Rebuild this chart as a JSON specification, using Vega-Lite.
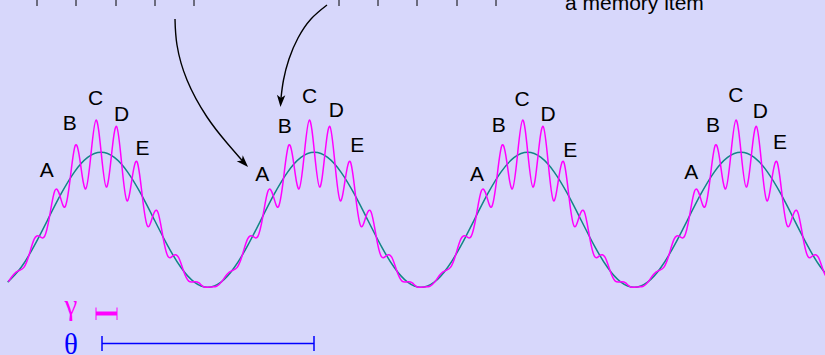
{
  "$schema": "https://vega.github.io/schema/vega-lite/v6.json",
  "width": 825,
  "height": 355,
  "autosize": {"type": "none"},
  "padding": 0,
  "background": "#d7d7fb",
  "config": {"view": {"stroke": null}},
  "encoding": {
    "x": {"field": "x", "type": "quantitative", "scale": {"domain": [0, 825], "nice": false, "zero": false}, "axis": null},
    "y": {"field": "y", "type": "quantitative", "scale": {"domain": [0, 355], "nice": false, "zero": false, "reverse": true}, "axis": null}
  },
  "layer": [
    {
      "data": {"values": [
        {"x": 7.68, "y": 282.16}, {"x": 21.01, "y": 267.53}, {"x": 34.34, "y": 245.63}, {"x": 47.68, "y": 219.8},
        {"x": 61.01, "y": 193.97}, {"x": 74.34, "y": 172.07}, {"x": 87.67, "y": 157.44}, {"x": 101, "y": 152.3},
        {"x": 114.33, "y": 157.44}, {"x": 127.66, "y": 172.07}, {"x": 140.99, "y": 193.97}, {"x": 154.33, "y": 219.8},
        {"x": 167.66, "y": 245.63}, {"x": 180.99, "y": 267.53}, {"x": 194.32, "y": 282.16}, {"x": 207.65, "y": 287.3},
        {"x": 220.98, "y": 282.16}, {"x": 234.31, "y": 267.53}, {"x": 247.64, "y": 245.63}, {"x": 260.98, "y": 219.8},
        {"x": 274.31, "y": 193.97}, {"x": 287.64, "y": 172.07}, {"x": 300.97, "y": 157.44}, {"x": 314.3, "y": 152.3},
        {"x": 327.63, "y": 157.44}, {"x": 340.96, "y": 172.07}, {"x": 354.29, "y": 193.97}, {"x": 367.63, "y": 219.8},
        {"x": 380.96, "y": 245.63}, {"x": 394.29, "y": 267.53}, {"x": 407.62, "y": 282.16}, {"x": 420.95, "y": 287.3},
        {"x": 434.28, "y": 282.16}, {"x": 447.61, "y": 267.53}, {"x": 460.94, "y": 245.63}, {"x": 474.28, "y": 219.8},
        {"x": 487.61, "y": 193.97}, {"x": 500.94, "y": 172.07}, {"x": 514.27, "y": 157.44}, {"x": 527.6, "y": 152.3},
        {"x": 540.93, "y": 157.44}, {"x": 554.26, "y": 172.07}, {"x": 567.59, "y": 193.97}, {"x": 580.93, "y": 219.8},
        {"x": 594.26, "y": 245.63}, {"x": 607.59, "y": 267.53}, {"x": 620.92, "y": 282.16}, {"x": 634.25, "y": 287.3},
        {"x": 647.58, "y": 282.16}, {"x": 660.91, "y": 267.53}, {"x": 674.24, "y": 245.63}, {"x": 687.58, "y": 219.8},
        {"x": 700.91, "y": 193.97}, {"x": 714.24, "y": 172.07}, {"x": 727.57, "y": 157.44}, {"x": 740.9, "y": 152.3},
        {"x": 754.23, "y": 157.44}, {"x": 767.56, "y": 172.07}, {"x": 780.89, "y": 193.97}, {"x": 794.23, "y": 219.8},
        {"x": 807.56, "y": 245.63}, {"x": 820.89, "y": 267.53}, {"x": 834.22, "y": 282.16}
      ]},
      "mark": {"type": "line", "interpolate": "natural", "color": "#138686", "strokeWidth": 1.5, "clip": true}
    },
    {
      "data": {"values": [
        {"x": 8.45, "y": 281.6}, {"x": 13.6, "y": 274.4}, {"x": 18.75, "y": 270.6}, {"x": 23.9, "y": 267.4}, {"x": 29.05, "y": 255.0},
        {"x": 34.2, "y": 239.1}, {"x": 39.35, "y": 236.2}, {"x": 44.5, "y": 236.5}, {"x": 49.65, "y": 215.9}, {"x": 54.8, "y": 190.8},
        {"x": 59.95, "y": 195.9}, {"x": 65.1, "y": 206.8}, {"x": 70.25, "y": 178.2}, {"x": 75.4, "y": 145.2}, {"x": 80.55, "y": 164.2},
        {"x": 85.7, "y": 188.9}, {"x": 90.85, "y": 155.3}, {"x": 96.0, "y": 120.1}, {"x": 101.15, "y": 152.3}, {"x": 106.3, "y": 187.1},
        {"x": 111.45, "y": 155.5}, {"x": 116.6, "y": 126.5}, {"x": 121.75, "y": 164.5}, {"x": 126.9, "y": 200.7}, {"x": 132.05, "y": 178.6},
        {"x": 137.2, "y": 162.1}, {"x": 142.35, "y": 196.5}, {"x": 147.5, "y": 226.2}, {"x": 152.65, "y": 216.5}, {"x": 157.8, "y": 212.0},
        {"x": 162.95, "y": 236.8}, {"x": 168.1, "y": 256.6}, {"x": 173.25, "y": 255.5}, {"x": 178.4, "y": 257.2}, {"x": 183.55, "y": 271.0},
        {"x": 188.7, "y": 281.1}, {"x": 193.85, "y": 281.8}, {"x": 199.0, "y": 282.9}, {"x": 204.15, "y": 287.0},
        {"x": 211.45, "y": 286.9}, {"x": 216.6, "y": 286.2}, {"x": 221.75, "y": 281.6}, {"x": 226.9, "y": 274.4}, {"x": 232.05, "y": 270.6},
        {"x": 237.2, "y": 267.4}, {"x": 242.35, "y": 255.0}, {"x": 247.5, "y": 239.1}, {"x": 252.65, "y": 236.2}, {"x": 257.8, "y": 236.5},
        {"x": 262.95, "y": 215.9}, {"x": 268.1, "y": 190.8}, {"x": 273.25, "y": 195.9}, {"x": 278.4, "y": 206.8}, {"x": 283.55, "y": 178.2},
        {"x": 288.7, "y": 145.2}, {"x": 293.85, "y": 164.2}, {"x": 299.0, "y": 188.9}, {"x": 304.15, "y": 155.3}, {"x": 309.3, "y": 120.1},
        {"x": 314.45, "y": 152.3}, {"x": 319.6, "y": 187.1}, {"x": 324.75, "y": 155.5}, {"x": 329.9, "y": 126.5}, {"x": 335.05, "y": 164.5},
        {"x": 340.2, "y": 200.7}, {"x": 345.35, "y": 178.6}, {"x": 350.5, "y": 162.1}, {"x": 355.65, "y": 196.5}, {"x": 360.8, "y": 226.2},
        {"x": 365.95, "y": 216.5}, {"x": 371.1, "y": 212.0}, {"x": 376.25, "y": 236.8}, {"x": 381.4, "y": 256.6}, {"x": 386.55, "y": 255.5},
        {"x": 391.7, "y": 257.2}, {"x": 396.85, "y": 271.0}, {"x": 402.0, "y": 281.1}, {"x": 407.15, "y": 281.8}, {"x": 412.3, "y": 282.9},
        {"x": 417.45, "y": 287.0},
        {"x": 424.75, "y": 286.9}, {"x": 429.9, "y": 286.2}, {"x": 435.05, "y": 281.6}, {"x": 440.2, "y": 274.4}, {"x": 445.35, "y": 270.6},
        {"x": 450.5, "y": 267.4}, {"x": 455.65, "y": 255.0}, {"x": 460.8, "y": 239.1}, {"x": 465.95, "y": 236.2}, {"x": 471.1, "y": 236.5},
        {"x": 476.25, "y": 215.9}, {"x": 481.4, "y": 190.8}, {"x": 486.55, "y": 195.9}, {"x": 491.7, "y": 206.8}, {"x": 496.85, "y": 178.2},
        {"x": 502.0, "y": 145.2}, {"x": 507.15, "y": 164.2}, {"x": 512.3, "y": 188.9}, {"x": 517.45, "y": 155.3}, {"x": 522.6, "y": 120.1},
        {"x": 527.75, "y": 152.3}, {"x": 532.9, "y": 187.1}, {"x": 538.05, "y": 155.5}, {"x": 543.2, "y": 126.5}, {"x": 548.35, "y": 164.5},
        {"x": 553.5, "y": 200.7}, {"x": 558.65, "y": 178.6}, {"x": 563.8, "y": 162.1}, {"x": 568.95, "y": 196.5}, {"x": 574.1, "y": 226.2},
        {"x": 579.25, "y": 216.5}, {"x": 584.4, "y": 212.0}, {"x": 589.55, "y": 236.8}, {"x": 594.7, "y": 256.6}, {"x": 599.85, "y": 255.5},
        {"x": 605.0, "y": 257.2}, {"x": 610.15, "y": 271.0}, {"x": 615.3, "y": 281.1}, {"x": 620.45, "y": 281.8}, {"x": 625.6, "y": 282.9},
        {"x": 630.75, "y": 287.0},
        {"x": 638.05, "y": 286.9}, {"x": 643.2, "y": 286.2}, {"x": 648.35, "y": 281.6}, {"x": 653.5, "y": 274.4}, {"x": 658.65, "y": 270.6},
        {"x": 663.8, "y": 267.4}, {"x": 668.95, "y": 255.0}, {"x": 674.1, "y": 239.1}, {"x": 679.25, "y": 236.2}, {"x": 684.4, "y": 236.5},
        {"x": 689.55, "y": 215.9}, {"x": 694.7, "y": 190.8}, {"x": 699.85, "y": 195.9}, {"x": 705.0, "y": 206.8}, {"x": 710.15, "y": 178.2},
        {"x": 715.3, "y": 145.2}, {"x": 720.45, "y": 164.2}, {"x": 725.6, "y": 188.9}, {"x": 730.75, "y": 155.3}, {"x": 735.9, "y": 120.1},
        {"x": 741.05, "y": 152.3}, {"x": 746.2, "y": 187.1}, {"x": 751.35, "y": 155.5}, {"x": 756.5, "y": 126.5}, {"x": 761.65, "y": 164.5},
        {"x": 766.8, "y": 200.7}, {"x": 771.95, "y": 178.6}, {"x": 777.1, "y": 162.1}, {"x": 782.25, "y": 196.5}, {"x": 787.4, "y": 226.2},
        {"x": 792.55, "y": 216.5}, {"x": 797.7, "y": 212.0}, {"x": 802.85, "y": 236.8}, {"x": 808.0, "y": 256.6}, {"x": 813.15, "y": 255.5},
        {"x": 818.3, "y": 257.2}, {"x": 823.45, "y": 271.0}, {"x": 828.6, "y": 281.1}
      ]},
      "mark": {"type": "line", "interpolate": "natural", "color": "#ff00ff", "strokeWidth": 1.5, "clip": true}
    },
    {
      "data": {"values": [
        {"arrow": 1, "i": 0, "x": 175, "y": 19}, {"arrow": 1, "i": 1, "x": 177, "y": 45}, {"arrow": 1, "i": 2, "x": 187, "y": 80},
        {"arrow": 1, "i": 3, "x": 207, "y": 117}, {"arrow": 1, "i": 4, "x": 227, "y": 143}, {"arrow": 1, "i": 5, "x": 243, "y": 161.5},
        {"arrow": 2, "i": 0, "x": 327, "y": 5}, {"arrow": 2, "i": 1, "x": 311, "y": 19}, {"arrow": 2, "i": 2, "x": 298, "y": 38},
        {"arrow": 2, "i": 3, "x": 289, "y": 59}, {"arrow": 2, "i": 4, "x": 283.5, "y": 80}, {"arrow": 2, "i": 5, "x": 281, "y": 98}
      ]},
      "mark": {"type": "line", "interpolate": "natural", "color": "#000000", "strokeWidth": 1.4},
      "encoding": {"detail": {"field": "arrow", "type": "nominal"}, "order": {"field": "i", "type": "quantitative"}}
    },
    {
      "data": {"values": [{"x": 243.9, "y": 162.6}]},
      "mark": {"type": "point", "shape": "M0,1L-0.7,-1L0,-0.5L0.7,-1Z", "size": 144, "filled": true, "color": "#000000", "opacity": 1, "angle": 316}
    },
    {
      "data": {"values": [{"x": 280.8, "y": 101}]},
      "mark": {"type": "point", "shape": "M0,1L-0.7,-1L0,-0.5L0.7,-1Z", "size": 144, "filled": true, "color": "#000000", "opacity": 1, "angle": 3}
    },
    {
      "data": {"values": [
        {"x": 37, "y": 0, "y2": 6}, {"x": 76, "y": 0, "y2": 6}, {"x": 116, "y": 0, "y2": 6}, {"x": 155, "y": 0, "y2": 6}, {"x": 194, "y": 0, "y2": 6},
        {"x": 339, "y": 0, "y2": 6}, {"x": 378, "y": 0, "y2": 6}, {"x": 417, "y": 0, "y2": 6}, {"x": 457, "y": 0, "y2": 6}, {"x": 496, "y": 0, "y2": 6}
      ]},
      "mark": {"type": "rule", "color": "#000000", "strokeWidth": 1},
      "encoding": {"y2": {"field": "y2"}}
    },
    {
      "data": {"values": [{"x": 565, "y": 10, "label": "a memory item"}]},
      "mark": {"type": "text", "align": "left", "baseline": "alphabetic", "font": "Liberation Sans", "fontSize": 21, "color": "#000000"},
      "encoding": {"text": {"field": "label"}}
    },
    {
      "data": {"values": [
        {"x": 46.7, "y": 176.7, "label": "A"}, {"x": 69.7, "y": 130, "label": "B"}, {"x": 95.5, "y": 105, "label": "C"}, {"x": 121.7, "y": 120.7, "label": "D"}, {"x": 142.5, "y": 155, "label": "E"},
        {"x": 262.2, "y": 180.7, "label": "A"}, {"x": 284.7, "y": 132.7, "label": "B"}, {"x": 309.5, "y": 103.3, "label": "C"}, {"x": 336.3, "y": 116.7, "label": "D"}, {"x": 357.2, "y": 152, "label": "E"},
        {"x": 477, "y": 180.7, "label": "A"}, {"x": 498.8, "y": 131.7, "label": "B"}, {"x": 522.2, "y": 106, "label": "C"}, {"x": 548, "y": 121, "label": "D"}, {"x": 570.3, "y": 156.7, "label": "E"},
        {"x": 691.3, "y": 179.3, "label": "A"}, {"x": 713, "y": 131.5, "label": "B"}, {"x": 735.8, "y": 102.3, "label": "C"}, {"x": 760.3, "y": 117.7, "label": "D"}, {"x": 780, "y": 149.3, "label": "E"}
      ]},
      "mark": {"type": "text", "align": "center", "baseline": "alphabetic", "font": "Liberation Sans", "fontSize": 21, "color": "#000000"},
      "encoding": {"text": {"field": "label"}}
    },
    {
      "data": {"values": [{"x": 71, "y": 314.5, "label": "γ"}]},
      "mark": {"type": "text", "align": "center", "baseline": "alphabetic", "font": "Liberation Serif", "fontSize": 29, "color": "#ff00ff"},
      "encoding": {"text": {"field": "label"}}
    },
    {
      "data": {"values": [{"x": 71, "y": 353.5, "label": "θ"}]},
      "mark": {"type": "text", "align": "center", "baseline": "alphabetic", "font": "Liberation Serif", "fontSize": 29, "color": "#0000ff"},
      "encoding": {"text": {"field": "label"}}
    },
    {
      "data": {"values": [{"x": 96, "x2": 117, "y": 313.5}]},
      "mark": {"type": "rule", "color": "#ff00ff", "strokeWidth": 4},
      "encoding": {"x2": {"field": "x2"}}
    },
    {
      "data": {"values": [{"x": 96, "y": 307.5, "y2": 320}, {"x": 117, "y": 307.5, "y2": 320}]},
      "mark": {"type": "rule", "color": "#ff00ff", "strokeWidth": 1},
      "encoding": {"y2": {"field": "y2"}}
    },
    {
      "data": {"values": [{"x": 102, "x2": 314, "y": 343.5}]},
      "mark": {"type": "rule", "color": "#0000ff", "strokeWidth": 1.5},
      "encoding": {"x2": {"field": "x2"}}
    },
    {
      "data": {"values": [{"x": 102, "y": 336, "y2": 351}, {"x": 314, "y": 336, "y2": 351}]},
      "mark": {"type": "rule", "color": "#0000ff", "strokeWidth": 1.5},
      "encoding": {"y2": {"field": "y2"}}
    }
  ]
}
